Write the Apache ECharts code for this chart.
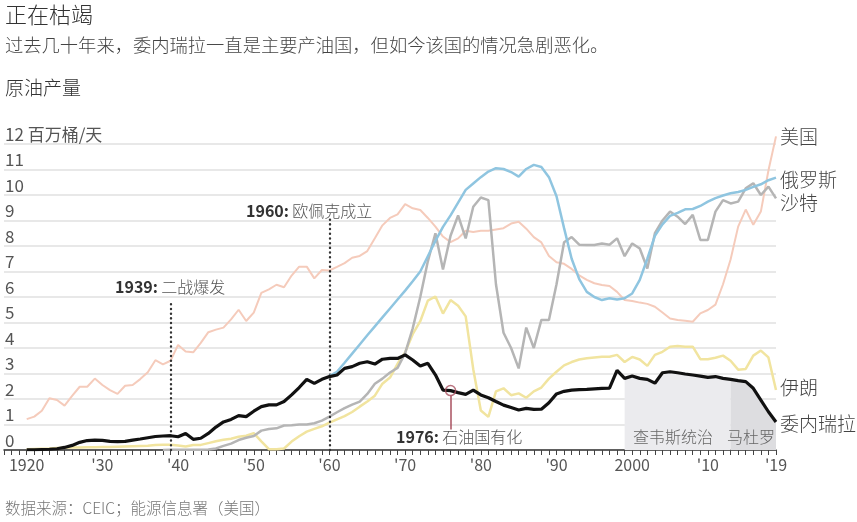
<!DOCTYPE html>
<html><head><meta charset="utf-8">
<script src="https://cdn.jsdelivr.net/npm/echarts@6/dist/echarts.min.js"></script>
<style>html,body{margin:0;padding:0;background:#fff}#c{width:857px;height:522px}</style>
</head><body><div id="c"></div>
<script>
// ---- data (million barrels per day) ----
const usStart = 1920;
const usProd = [
 1.21,1.31,1.54,2.03,1.96,1.74,2.12,2.48,2.48,2.8,
 2.55,2.35,2.2,2.52,2.55,2.78,3.05,3.52,3.36,3.5,
 4.12,3.86,3.83,4.2,4.62,4.72,4.8,5.12,5.5,5.06,
 5.39,6.16,6.3,6.48,6.38,6.84,7.19,7.19,6.73,7.06,
 7.04,7.18,7.33,7.54,7.61,7.8,8.3,8.81,9.1,9.24,
 9.64,9.48,9.41,9.1,8.76,8.37,8.15,8.3,8.6,8.55,
 8.6,8.6,8.65,8.7,8.88,8.95,8.68,8.35,8.14,7.61,
 7.36,7.3,7.1,6.85,6.67,6.54,6.47,6.43,6.2,5.88,
 5.84,5.78,5.73,5.62,5.39,5.16,5.1,5.07,5.03,5.36,
 5.49,5.7,6.5,7.47,8.76,9.43,8.83,9.35,10.96,12.3
];
const iranStart = 1920;
const iranProd = [
 0.03,0.04,0.05,0.06,0.08,0.09,0.1,0.1,0.11,0.11,
 0.12,0.12,0.13,0.14,0.15,0.16,0.17,0.2,0.21,0.21,
 0.18,0.14,0.2,0.2,0.27,0.34,0.4,0.44,0.52,0.56,
 0.66,0.34,0.03,0.03,0.06,0.33,0.54,0.72,0.83,0.93,
 1.07,1.2,1.33,1.49,1.7,1.9,2.13,2.6,2.84,3.38,
 3.83,4.54,5.05,5.86,6.02,5.35,5.88,5.66,5.24,3.17,
 1.55,1.3,2.3,2.42,2.15,2.22,2.05,2.3,2.45,2.8,
 3.07,3.32,3.45,3.55,3.6,3.63,3.66,3.66,3.73,3.45,
 3.65,3.55,3.3,3.73,3.85,4.05,4.08,4.05,4.05,3.56,
 3.56,3.62,3.7,3.5,3.15,3.18,3.7,3.9,3.63,2.35
];
const saudiStart = 1938;
const saudiProd = [
 0,0.01,
 0.01,0.01,0.01,0.01,0.02,0.06,0.16,0.25,0.39,0.48,
 0.55,0.76,0.82,0.85,0.96,0.97,1.0,1.0,1.05,1.15,
 1.31,1.48,1.64,1.78,1.9,2.2,2.6,2.8,3.04,3.22,
 3.8,4.77,6.0,7.4,8.5,7.08,8.4,9.2,8.3,9.54,
 9.9,9.8,6.5,4.6,4.0,3.2,4.8,4.0,5.1,5.1,
 6.5,8.15,8.35,8.05,8.04,8.04,8.1,8.05,8.3,7.6,
 8.1,7.9,7.12,8.5,9.0,9.35,9.15,8.86,9.22,8.24,
 8.24,9.35,9.8,9.67,9.74,10.26,10.46,10.0,10.33,9.87
];
const russiaStart = 1960;
const russiaProd = [
 2.9,3.07,3.42,3.78,4.14,4.5,4.85,5.2,5.55,5.9,
 6.25,6.62,7.0,7.6,8.2,8.75,9.2,9.7,10.2,10.45,
 10.7,10.92,11.05,11.02,10.9,10.72,11.02,11.18,11.1,10.7,
 9.95,8.7,7.5,6.7,6.2,6.0,5.88,5.95,5.9,5.95,
 6.14,6.67,7.5,8.4,8.85,9.18,9.3,9.44,9.45,9.57,
 9.74,9.88,9.98,10.07,10.12,10.2,10.32,10.42,10.58,10.68
];
const venStart = 1920;
const venProd = [
 0.01,0.01,0.02,0.03,0.05,0.1,0.18,0.3,0.37,0.39,
 0.38,0.34,0.33,0.34,0.39,0.43,0.48,0.53,0.55,0.56,
 0.52,0.65,0.42,0.46,0.65,0.9,1.1,1.2,1.35,1.31,
 1.52,1.7,1.77,1.77,1.9,2.16,2.45,2.77,2.61,2.77,
 2.88,2.94,3.2,3.27,3.4,3.46,3.37,3.56,3.59,3.59,
 3.73,3.53,3.29,3.4,2.95,2.35,2.33,2.25,2.18,2.35,
 2.16,2.05,1.9,1.76,1.67,1.57,1.63,1.59,1.6,1.85,
 2.2,2.3,2.35,2.37,2.38,2.4,2.42,2.43,3.12,2.81,
 2.9,2.81,2.77,2.62,3.03,3.07,3.03,2.98,2.94,2.9,
 2.85,2.88,2.81,2.77,2.72,2.68,2.42,1.96,1.5,1.1
];
const chavezYears = [1999, 2013];
const maduroYears = [2013, 2019];
const yTicks = [0,1,2,3,4,5,6,7,8,9,10,11,12];
const yUnit = '百万桶/天';
const xLabelYears = [1920,1930,1940,1950,1960,1970,1980,1990,2000,2010,2019];
const xLabelText  = ['1920',"'30","'40","'50","'60","'70","'80","'90",'2000',"'10","'19"];
const events = [
  {year:1939, label:'1939:', text:'二战爆发', top:5.88},
  {year:1960, label:'1960:', text:'欧佩克成立', top:9.14},
  {year:1976, label:'1976:', text:'石油国有化'}
];

// ---- helpers ----
function pairs(start, arr){ return arr.map((v,i)=>[start+i, v]); }
function venRange(a,b){ return pairs(a, venProd.slice(a-venStart, b-venStart+1)); }
const CJK = '"Noto Sans CJK SC","Noto Sans",sans-serif';
const NARROW = '"Liberation Sans Narrow","Noto Sans CJK SC",sans-serif';
const ven1976 = venProd[1976 - venStart];

const chart = echarts.init(document.getElementById('c'), null, {renderer:'canvas'});
const ANN = '#a8505f';
const DOT = {color:'#333', width:2.4, type:[0.1,4.6], cap:'round'};

function richLabel(ev, x, y){
  return {type:'text', x:x, y:y, z:50,
    style:{text:'{b|'+ev.label+'} {n|'+ev.text+'}', verticalAlign:'middle', align:'left',
      rich:{b:{fontWeight:'bold', fontSize:16, fontFamily:NARROW, fill:'#333', color:'#333'},
            n:{fontSize:16, fontWeight:300, fontFamily:CJK, fill:'#555', color:'#555'}}}};
}
function txt(t, x, y, size, color, extra){
  return Object.assign({type:'text', x:x, y:y, z:50,
    style:{text:t, fontSize:size, fontWeight:300, fontFamily:CJK, fill:color, verticalAlign:'middle'}}, extra||{});
}

chart.setOption({
  animation:false,
  backgroundColor:'#fff',
  grid:{left:4, right:81, top:144, bottom:72, containLabel:false, outerBoundsMode:'none'},
  xAxis:{type:'value', min:1917, max:2019, interval:1,
    axisLine:{show:true, lineStyle:{color:'#333', width:1.5}},
    axisTick:{show:true, length:5, lineStyle:{color:'#444', width:1}},
    splitLine:{show:false},
    axisLabel:{show:true, margin:7, color:'#555', fontSize:16, fontFamily:NARROW, showMaxLabel:true, showMinLabel:true, hideOverlap:false,
      formatter:function(v){ const i = xLabelYears.indexOf(v); return i>=0 ? xLabelText[i] : ''; }}
  },
  yAxis:{type:'value', min:yTicks[0], max:yTicks[yTicks.length-1], interval:1,
    axisLine:{show:false}, axisTick:{show:false},
    splitLine:{show:true, lineStyle:{color:'#e0e0e0', width:1.5}},
    axisLabel:{inside:true, margin:1, verticalAlign:'bottom', padding:[0,0,1,0], color:'#555', fontSize:17, fontFamily:NARROW,
      formatter:function(v){ return v===12 ? '12 ' + yUnit : String(v); }}
  },
  series:[
    {name:'chavez', type:'line', data:venRange(chavezYears[0], chavezYears[1]), symbol:'none', silent:true,
      lineStyle:{width:0}, areaStyle:{color:'#ebebee', opacity:1}, z:1},
    {name:'maduro', type:'line', data:venRange(maduroYears[0], maduroYears[1]), symbol:'none', silent:true,
      lineStyle:{width:0}, areaStyle:{color:'#dddde0', opacity:1}, z:1},
    {name:'美国', type:'line', data:pairs(usStart, usProd), symbol:'none', clip:false,
      lineStyle:{color:'#f5cbbb', width:2}, z:2},
    {name:'伊朗', type:'line', data:pairs(iranStart, iranProd), symbol:'none',
      lineStyle:{color:'#f1e49f', width:2.5}, z:3},
    {name:'沙特', type:'line', data:pairs(saudiStart, saudiProd), symbol:'none',
      lineStyle:{color:'#b5b5b5', width:2.5}, z:4},
    {name:'俄罗斯', type:'line', data:pairs(russiaStart, russiaProd), symbol:'none',
      lineStyle:{color:'#8fc5e0', width:2.5}, z:5},
    {name:'委内瑞拉', type:'line', data:pairs(venStart, venProd), symbol:'none',
      lineStyle:{color:'#111', width:3.2}, z:6,
      markLine:{silent:true, symbol:['none','none'], label:{show:false}, animation:false,
        data:[
          [{coord:[events[0].year,0], lineStyle:DOT},{coord:[events[0].year,events[0].top]}],
          [{coord:[events[1].year,0], lineStyle:DOT},{coord:[events[1].year,events[1].top]}],
          [{coord:[events[2].year,ven1976-0.19], lineStyle:{color:ANN, width:1.5, type:'solid'}},{coord:[events[2].year,0.8]}]
        ]}
    },
    {name:'1976', type:'scatter', data:[[1976, ven1976]], symbol:'circle', symbolSize:10, z:10, silent:true,
      itemStyle:{color:'rgba(0,0,0,0)', borderColor:ANN, borderWidth:1.5}}
  ],
  graphic:[
    txt('正在枯竭', 5, 15, 22, '#333'),
    txt('过去几十年来，委内瑞拉一直是主要产油国，但如今该国的情况急剧恶化。', 5, 45, 18.3, '#444'),
    txt('原油产量', 5, 88, 19, '#333'),
    txt('数据来源：CEIC；能源信息署（美国）', 5, 508, 15.5, '#777'),
    richLabel(events[0], 115, 287),
    richLabel(events[1], 246, 211),
    richLabel(events[2], 396, 437),
    txt('查韦斯统治', 633, 437, 16, '#666'),
    txt('马杜罗', 727, 437, 16, '#666'),
    txt('美国', 780, 137, 19, '#444'),
    txt('俄罗斯', 780, 180, 19, '#444'),
    txt('沙特', 780, 203, 19, '#444'),
    txt('伊朗', 780, 388, 19, '#444'),
    txt('委内瑞拉', 780, 424, 19, '#444')
  ]
});
</script></body></html>
